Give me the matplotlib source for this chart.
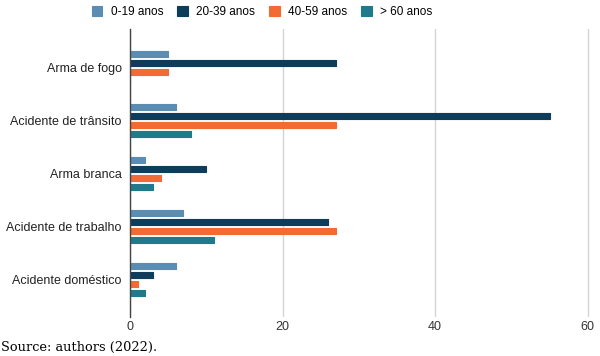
import matplotlib.pyplot as plt
import numpy as np

plt.rcParams['font.family'] = ['Liberation Sans', 'DejaVu Sans']

categories = ["Arma de fogo", "Acidente de trânsito", "Arma branca",
              "Acidente de trabalho", "Acidente doméstico"]
groups = ["0-19 anos", "20-39 anos", "40-59 anos", "> 60 anos"]
age_0_19 = [5, 6, 2, 7, 6]
age_20_39 = [27, 55, 10, 26, 3]
age_40_59 = [5, 27, 4, 27, 1]
age_60 = [0, 8, 3, 11, 2]
colors = ["#5b8db3", "#0e3d5b", "#f26b35", "#1f7a8c"]

series = [age_0_19, age_20_39, age_40_59, age_60]

fig = plt.figure(figsize=(6, 3.56), dpi=100)
ax = fig.add_axes([0.2167, 0.11, 0.7666, 0.808])

y = np.arange(len(categories))
step = 0.17
h = 0.115
for i, vals in enumerate(series):
    off = (i - 1.5) * step
    ax.barh(y + off, vals, height=h, color=colors[i], label=groups[i],
            edgecolor=colors[i], linewidth=0.8, joinstyle="round", zorder=3)

ax.set_ylim(4.7, -0.72)
ax.set_xlim(0, 60.3)
ax.set_yticks(y)
ax.set_yticklabels(categories, fontsize=9, color="#222222")
ax.set_xticks([0, 20, 40, 60])
ax.tick_params(axis="x", labelsize=9, colors="#333333", length=0, pad=3)
ax.tick_params(axis="y", length=0, pad=6)
ax.grid(axis="x", color="#d4d4d4", linewidth=1, zorder=0)
for s in ["top", "right", "bottom"]:
    ax.spines[s].set_visible(False)
ax.spines["left"].set_color("#444444")
ax.spines["left"].set_linewidth(1)
ax.spines["left"].set_zorder(4)

fig.legend(loc="upper center", bbox_to_anchor=(0.437, 1.012), ncol=4,
           frameon=False, fontsize=8.5, handlelength=0.9, handleheight=0.9,
           columnspacing=1.2, handletextpad=0.7)

fig.text(0.002, 0.025, "Source: authors (2022).", family="DejaVu Serif",
         fontsize=9.3, ha="left", va="center")

fig.savefig("out.png", dpi=100)
